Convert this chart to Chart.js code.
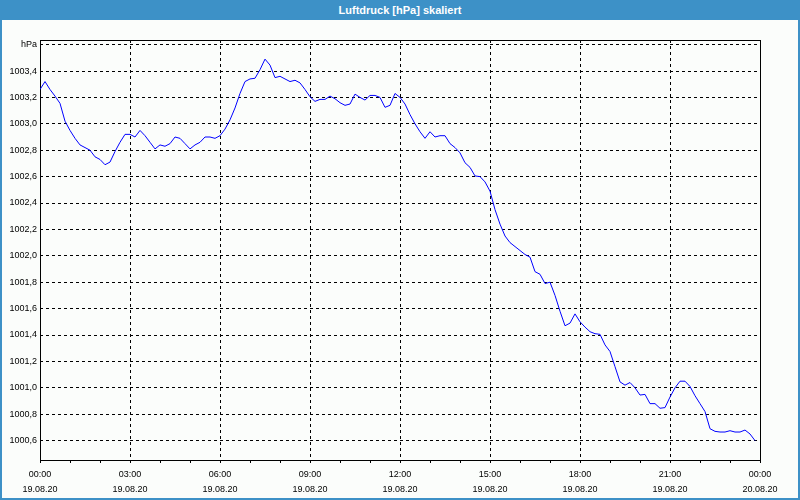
<!DOCTYPE html>
<html>
<head>
<meta charset="utf-8">
<script src="https://cdn.jsdelivr.net/npm/chart.js@4/dist/chart.umd.min.js"></script>
<style>
html, body { margin: 0; padding: 0; background: #fff; }
#frame {
    position: relative;
    width: 800px;
    height: 500px;
    background: #fbfdfb;
    box-shadow: inset 0 0 0 2px #3d91c7;
}
#title {
    position: absolute;
    left: 0; top: 0;
    width: 800px; height: 20px;
    background: #3d91c7;
    color: #fff;
    font: bold 11px "Liberation Sans", Arial, sans-serif;
    line-height: 20px;
    text-align: center;
}
#chart { position: absolute; left: 0; top: 0; }
</style>
</head>
<body>
<div id="frame">
    <div id="title">Luftdruck [hPa] skaliert</div>
    <canvas id="chart" width="800" height="500"></canvas>
</div>
<script>
// 10-minute readings, 19.08.20 00:00 .. 23:50
const stepMinutes = 10;
const pressure = [
    1003.26, 1003.32, 1003.26, 1003.21, 1003.155, 1003.02, 1002.95, 1002.89, 1002.84, 1002.82,
    1002.80, 1002.75, 1002.73, 1002.69, 1002.71, 1002.79, 1002.86, 1002.92, 1002.92, 1002.90,
    1002.95, 1002.91, 1002.86, 1002.81, 1002.84, 1002.83, 1002.85, 1002.90, 1002.89, 1002.85,
    1002.81, 1002.84, 1002.86, 1002.90, 1002.90, 1002.89, 1002.91, 1002.96, 1003.03, 1003.12,
    1003.23, 1003.32, 1003.34, 1003.345, 1003.41, 1003.49, 1003.445, 1003.35, 1003.36, 1003.34,
    1003.32, 1003.33, 1003.31, 1003.26, 1003.205, 1003.17, 1003.185, 1003.185, 1003.21, 1003.19,
    1003.16, 1003.14, 1003.15, 1003.225, 1003.20, 1003.18, 1003.215, 1003.215, 1003.20, 1003.125,
    1003.14, 1003.23, 1003.20, 1003.15, 1003.07, 1003.00, 1002.94, 1002.89, 1002.94, 1002.90,
    1002.91, 1002.91, 1002.85, 1002.82, 1002.78, 1002.705, 1002.67, 1002.605, 1002.60, 1002.56,
    1002.49, 1002.35, 1002.24, 1002.15, 1002.10, 1002.07, 1002.04, 1002.01, 1001.99, 1001.88,
    1001.86, 1001.79, 1001.80, 1001.70, 1001.58, 1001.47, 1001.49, 1001.56, 1001.50, 1001.46,
    1001.425, 1001.41, 1001.405, 1001.325, 1001.275, 1001.16, 1001.045, 1001.02, 1001.04, 1001.00,
    1000.945, 1000.95, 1000.88, 1000.88, 1000.845, 1000.85, 1000.93, 1001.00, 1001.05, 1001.05,
    1001.01, 1000.94, 1000.88, 1000.82, 1000.69, 1000.67, 1000.665, 1000.665, 1000.675, 1000.665,
    1000.665, 1000.68, 1000.65, 1000.60
];

const yTicks = [1000.6, 1000.8, 1001.0, 1001.2, 1001.4, 1001.6, 1001.8, 1002.0,
                1002.2, 1002.4, 1002.6, 1002.8, 1003.0, 1003.2, 1003.4, 1003.6];
const yTickLabels = ['1000,6', '1000,8', '1001,0', '1001,2', '1001,4', '1001,6', '1001,8', '1002,0',
                     '1002,2', '1002,4', '1002,6', '1002,8', '1003,0', '1003,2', '1003,4', 'hPa'];
const yMin = 1000.453;
const yMax = 1003.635;

const xTickTimes = ['00:00', '03:00', '06:00', '09:00', '12:00', '15:00', '18:00', '21:00', '00:00'];
const xTickDates = ['19.08.20', '19.08.20', '19.08.20', '19.08.20', '19.08.20',
                    '19.08.20', '19.08.20', '19.08.20', '20.08.20'];

const labelFont = { family: '"Liberation Sans", Arial, sans-serif', size: 9 };

const hourMarks = [];
for (let m = 0; m <= 1440; m += 60) hourMarks.push(m);

const plotBox = {
    id: 'plotBox',
    beforeDatasetsDraw(chart) {
        const { ctx, chartArea: a } = chart;
        ctx.save();
        ctx.strokeStyle = '#000';
        ctx.lineWidth = 1;
        ctx.setLineDash([]);
        ctx.strokeRect(Math.round(a.left) + 0.5, Math.round(a.top) + 0.5,
                       Math.round(a.right - a.left), Math.round(a.bottom - a.top));
        ctx.restore();
    }
};

new Chart(document.getElementById('chart'), {
    type: 'line',
    data: {
        datasets: [{
            data: pressure.map((v, i) => ({ x: i * stepMinutes, y: v })),
            borderColor: '#0000ff',
            borderWidth: 1,
            pointRadius: 0,
            tension: 0,
            fill: false
        }]
    },
    options: {
        responsive: false,
        animation: false,
        layout: { padding: { left: 0, top: 40, right: 40, bottom: 0 } },
        plugins: { legend: { display: false }, tooltip: { enabled: false } },
        scales: {
            x: {
                type: 'linear',
                min: 0,
                max: 1440,
                afterBuildTicks: s => { s.ticks = hourMarks.map(v => ({ value: v })); },
                afterFit: s => { s.height = 40; },
                ticks: {
                    autoSkip: false,
                    maxRotation: 0,
                    padding: 4,
                    color: '#000',
                    font: { ...labelFont, lineHeight: 1.65 },
                    callback: v => v % 180 === 0 ? [xTickTimes[v / 180], xTickDates[v / 180]] : ''
                },
                grid: {
                    color: c => (c.tick && c.tick.value % 180 === 0 && c.tick.value > 0 && c.tick.value < 1440)
                        ? '#000' : 'rgba(0,0,0,0)',
                    lineWidth: 1,
                    tickColor: '#000',
                    tickLength: 3,
                    tickBorderDash: []
                },
                border: { display: false, dash: [3, 3] }
            },
            y: {
                min: yMin,
                max: yMax,
                afterBuildTicks: s => { s.ticks = yTicks.map(v => ({ value: v })); },
                afterFit: s => { s.width = 40; },
                ticks: {
                    padding: 3,
                    color: '#000',
                    font: labelFont,
                    callback: (v, i) => yTickLabels[i]
                },
                grid: { color: '#000', lineWidth: 1, drawTicks: false },
                border: { display: false, dash: [3, 3] }
            }
        }
    },
    plugins: [plotBox]
});
</script>
</body>
</html>
